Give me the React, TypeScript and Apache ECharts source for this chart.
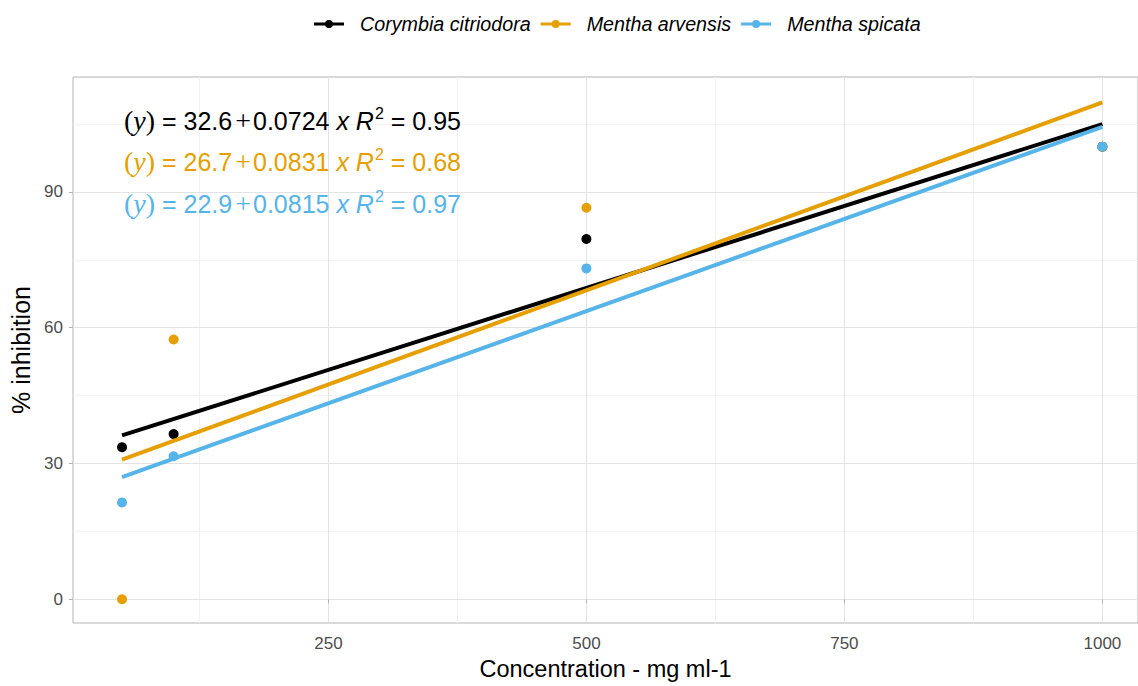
import React, { useEffect, useRef } from "react";
import * as echarts from "echarts";

const species = ["Corymbia citriodora", "Mentha arvensis", "Mentha spicata"];
const colors = ["#000000", "#E69F00", "#56B4E9"];
const concentrations = [50, 100, 500, 1000];
const corymbiaInhibition = [33.6, 36.5, 79.6, 100];
const arvensisInhibition = [0, 57.4, 86.5, 100];
const spicataInhibition = [21.4, 31.6, 73.1, 100];
const fitX = [50, 1000];
const corymbiaFit = [36.2, 105.0];
const arvensisFit = [30.85, 109.8];
const spicataFit = [27.0, 104.4];
const equations = [
  { a: "32.6", b: "0.0724", r2: "0.95" },
  { a: "26.7", b: "0.0831", r2: "0.68" },
  { a: "22.9", b: "0.0815", r2: "0.97" },
];
const xTicks = [250, 500, 750, 1000];
const xMinor = [125, 375, 625, 875];
const yTicks = [0, 30, 60, 90];
const yMinor = [15, 45, 75, 105];

const FONT = "'Liberation Sans', Arial, sans-serif";
const SERIF = "'Liberation Serif', 'Times New Roman', serif";
const legendIcon =
  "path://M0,3 L30,3 L30,6 L0,6 Z M15,0.5 A4,4 0 1,1 15,8.5 A4,4 0 1,1 15,0.5 Z";

export default function App() {
  const ref = useRef<HTMLDivElement>(null);
  useEffect(() => {
    if (!ref.current) return;
    const chart = echarts.init(ref.current, null, { renderer: "svg" });
    const points = [corymbiaInhibition, arvensisInhibition, spicataInhibition];
    const fits = [corymbiaFit, arvensisFit, spicataFit];

    const gridLines: any[] = [];
    xMinor.forEach((v) => gridLines.push({ xAxis: v, lineStyle: { color: "#F2F2F2", width: 1 } }));
    yMinor.forEach((v) => gridLines.push({ yAxis: v, lineStyle: { color: "#F2F2F2", width: 1 } }));
    xTicks.forEach((v) => gridLines.push({ xAxis: v, lineStyle: { color: "#E3E3E3", width: 1 } }));
    yTicks.forEach((v) => gridLines.push({ yAxis: v, lineStyle: { color: "#E3E3E3", width: 1 } }));

    const series: any[] = [
      {
        type: "line",
        name: "__grid",
        data: [],
        silent: true,
        z: 0,
        markLine: {
          silent: true,
          symbol: "none",
          label: { show: false },
          lineStyle: { type: "solid" },
          data: gridLines,
          animation: false,
          z: 0,
        },
      },
    ];
    species.forEach((s, i) => {
      series.push({
        type: "scatter",
        name: s,
        data: concentrations.map((c, j) => [c, points[i][j]]),
        symbol: "circle",
        symbolSize: 10,
        itemStyle: { color: colors[i], opacity: 1 },
        z: 2,
      });
    });
    species.forEach((s, i) => {
      series.push({
        type: "line",
        name: s,
        data: fitX.map((c, j) => [c, fits[i][j]]),
        showSymbol: false,
        symbol: "none",
        lineStyle: { color: colors[i], width: 4 },
        itemStyle: { color: colors[i] },
        z: 3,
      });
    });

    const graphics: any[] = equations.map((e, i) => ({
      type: "text",
      left: 124,
      top: [105, 146, 188][i],
      z: 100,
      style: {
        text: `{p|(}{y|y}{p|)}{t| = ${e.a}}{plus|+}{t|${e.b} }{i|x R}{sup|2}{t| = ${e.r2}}`,
        fill: colors[i],
        rich: {
          p: { fontFamily: SERIF, fontSize: 28, fill: colors[i] },
          y: { fontFamily: SERIF, fontStyle: "italic", fontSize: 28, fill: colors[i] },
          t: { fontFamily: FONT, fontSize: 25, fill: colors[i] },
          plus: { fontFamily: SERIF, fontSize: 28, fill: colors[i], padding: [0, 2, 0, 3] },
          i: { fontFamily: FONT, fontStyle: "italic", fontSize: 25, fill: colors[i] },
          sup: { fontFamily: FONT, fontSize: 16, fill: colors[i], padding: [0, 0, 15, 1] },
        },
      },
    }));

    chart.setOption({
      animation: false,
      backgroundColor: "#FFFFFF",
      legend: {
        data: species,
        top: 9,
        left: 309,
        itemGap: 10,
        itemWidth: 30,
        itemHeight: 9,
        icon: legendIcon,
        textStyle: {
          fontFamily: FONT,
          fontStyle: "italic",
          fontSize: 19.7,
          color: "#000000",
          padding: [0, 0, 0, 11],
        },
      },
      grid: {
        left: 73,
        right: 0,
        top: 77,
        bottom: 58,
        show: true,
        borderColor: "#B3B3B3",
        borderWidth: 1,
        containLabel: false,
      },
      xAxis: {
        type: "value",
        min: 2.5,
        max: 1034.5,
        name: "Concentration - mg ml-1",
        nameLocation: "middle",
        nameGap: 34,
        nameTextStyle: { fontFamily: FONT, fontSize: 23.5, color: "#000000" },
        axisLine: { show: false },
        axisTick: {
          show: true,
          length: 4,
          lineStyle: { color: "#B3B3B3" },
          customValues: xTicks,
        },
        axisLabel: {
          customValues: xTicks,
          formatter: (v: number) => String(v),
          fontFamily: FONT,
          fontSize: 17,
          color: "#4D4D4D",
          margin: 12,
        },
        splitLine: { show: false },
      },
      yAxis: {
        type: "value",
        min: -5.25,
        max: 115.4,
        name: "% inhibition",
        nameLocation: "middle",
        nameGap: 40,
        nameRotate: 90,
        nameTextStyle: { fontFamily: FONT, fontSize: 25, color: "#000000" },
        axisLine: { show: false },
        axisTick: {
          show: true,
          length: 4,
          lineStyle: { color: "#B3B3B3" },
          customValues: yTicks,
        },
        axisLabel: {
          customValues: yTicks,
          formatter: (v: number) => String(v),
          fontFamily: FONT,
          fontSize: 17,
          color: "#4D4D4D",
          margin: 10,
        },
        splitLine: { show: false },
      },
      graphic: graphics,
      series,
    });
    return () => chart.dispose();
  }, []);
  return <div ref={ref} style={{ width: 1138, height: 686, position: "absolute", left: 0, top: 0 }} />;
}
